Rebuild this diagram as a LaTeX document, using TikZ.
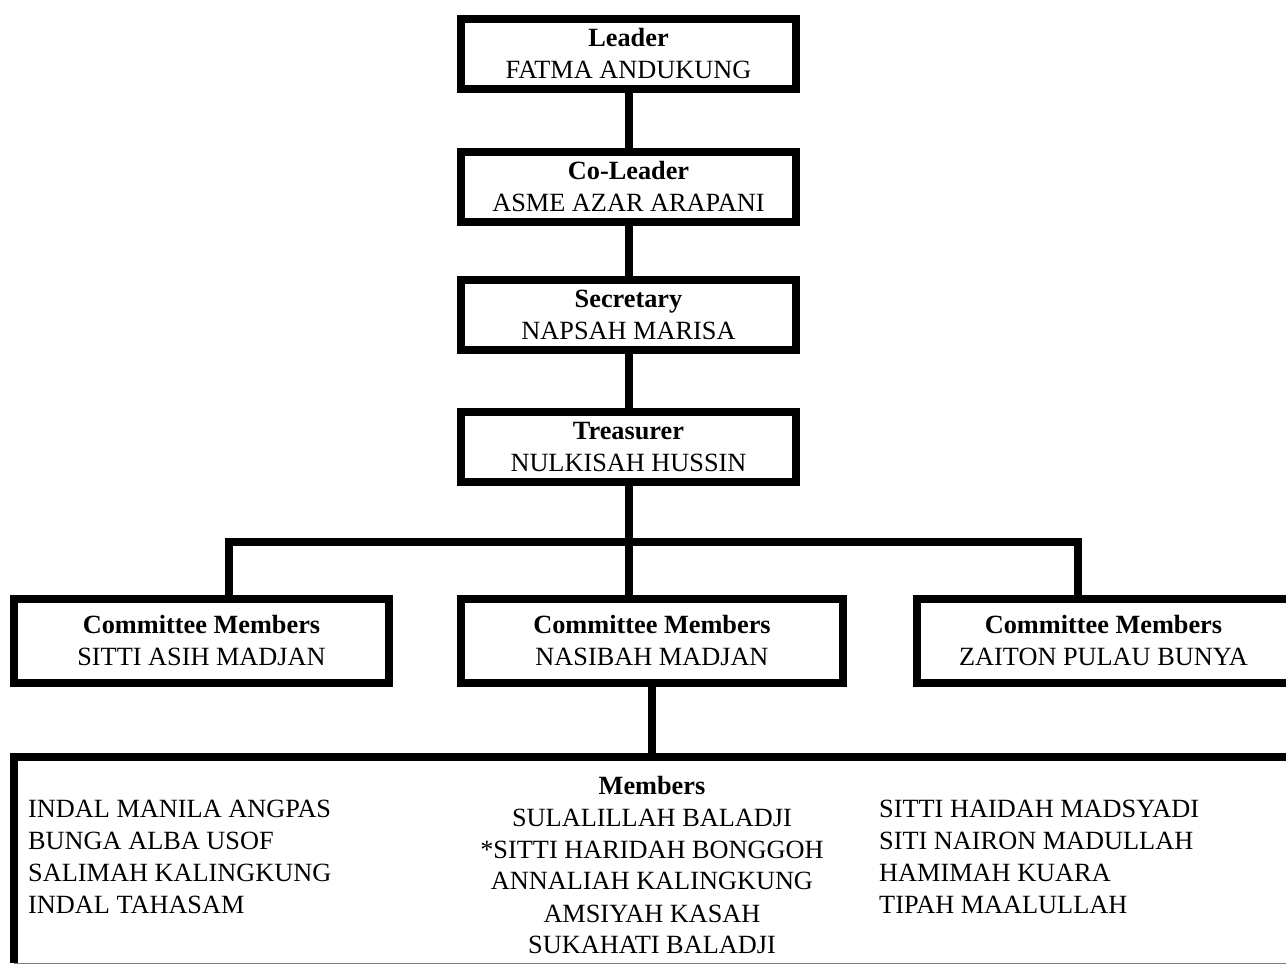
\documentclass[tikz,border=0pt]{standalone}
\usepackage{fontspec}
\setmainfont{Liberation Serif}
\begin{document}
\begin{tikzpicture}[x=1pt,y=-1pt,
  every node/.style={font=\fontsize{26.3}{32}\selectfont, inner sep=0pt},
  rolebox/.style={draw, line width=8pt, minimum width=335pt, minimum height=70pt, align=center},
  combox/.style={draw, line width=8pt, minimum height=84pt, align=center},
  conn/.style={line width=8pt, line join=miter},
  namelist/.style={align=left, anchor=west},
]
\useasboundingbox (0,0) rectangle (1286,965);
\clip (0,0) rectangle (1286,965);

% officers
\node[rolebox] (leader)   at (628.5,54) {\textbf{Leader}\\FATMA ANDUKUNG};
\node[rolebox] (coleader) at (628.5,187)  {\textbf{Co-Leader}\\ASME AZAR ARAPANI};
\node[rolebox] (sec)      at (628.5,315)  {\textbf{Secretary}\\NAPSAH MARISA};
\node[rolebox] (treas)    at (628.5,447)  {\textbf{Treasurer}\\NULKISAH HUSSIN};

% committee members
\node[combox, minimum width=375pt] (cleft)  at (201.5,641) {\textbf{Committee Members}\\SITTI ASIH MADJAN};
\node[combox, minimum width=382pt] (cmid)   at (652,641)   {\textbf{Committee Members}\\NASIBAH MADJAN};
\node[combox, minimum width=373pt] (cright) at (1103.5,641) {\textbf{Committee Members}\\ZAITON PULAU BUNYA};

% members panel
\node[minimum width=1290pt, minimum height=206pt, anchor=north west] (members) at (14,757) {};
\draw[conn] (members.south west) -- (members.north west) -- (members.north east);
\draw[gray, line width=1.5pt] (members.south west) -- (members.south east);

\node[namelist] (listL) at (28,857) {INDAL MANILA ANGPAS\\BUNGA ALBA USOF\\SALIMAH KALINGKUNG\\INDAL TAHASAM};
\node[align=center] (listM) at (652,865) {\textbf{Members}\\SULALILLAH BALADJI\\*SITTI HARIDAH BONGGOH\\ANNALIAH KALINGKUNG\\AMSIYAH KASAH\\SUKAHATI BALADJI};
\node[namelist] (listR) at (879,857) {SITTI HAIDAH MADSYADI\\SITI NAIRON MADULLAH\\HAMIMAH KUARA\\TIPAH MAALULLAH};

% connectors
\draw[conn] (leader.south) -- (coleader.north);
\draw[conn] (coleader.south) -- (sec.north);
\draw[conn] (sec.south) -- (treas.north);
\draw[conn] (treas.south) -- (treas.south |- cmid.north);

\coordinate (barL) at (229,542);
\coordinate (barR) at (1078,542);
\draw[conn] (barL |- cleft.north) -- (barL) -- (barR) -- (barR |- cright.north);

\draw[conn] (cmid.south) -- (cmid.south |- members.north);
\end{tikzpicture}
\end{document}
